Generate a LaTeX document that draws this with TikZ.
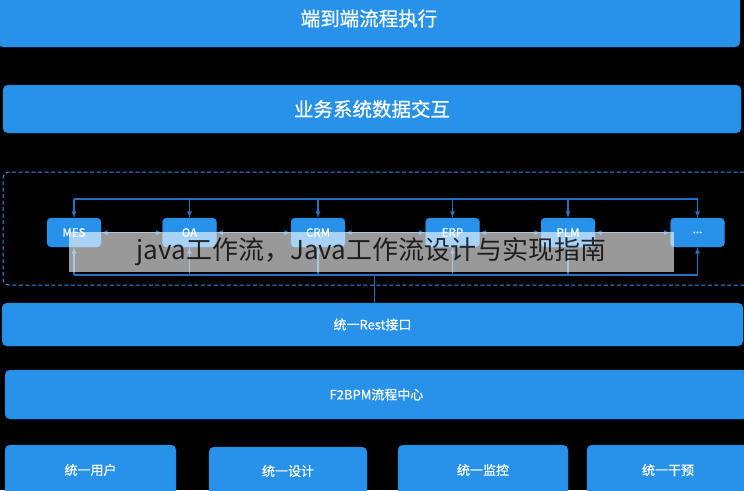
\documentclass[tikz,border=0pt]{standalone}
\usepackage{fontspec}
\setmainfont{Noto Sans CJK SC}[FakeBold=0.6]
\newfontfamily\markfont{Noto Sans CJK SC}
\usetikzlibrary{positioning, arrows, calc}
\definecolor{boxblue}{HTML}{2891EA}
\definecolor{linkblue}{HTML}{2173C2}
\definecolor{dashblue}{HTML}{2F90EA}

\begin{document}
\begin{tikzpicture}[x=1pt, y=-1pt,
	bigbox/.style={rectangle, fill=boxblue, draw=boxblue!85!black, rounded corners=5pt,
	align=center, text=white, inner sep=0pt, font=\fontsize{19.5}{22}\selectfont},
	midbox/.style={bigbox, font=\fontsize{13}{15}\selectfont},
	sysbox/.style={rectangle, fill=boxblue, draw=boxblue!85!black, rounded corners=4pt,
	minimum width=54pt, minimum height=29pt, inner sep=0pt, text=white,
	font=\fontsize{11.5}{13}\selectfont},
	link/.style={draw=linkblue, line width=1.2pt},
	linkarrow/.style={link, -latex}]
		
		\clip (0,0) rectangle (744,490);
		\fill[black] (0,0) rectangle (744,490);
		
		%Nodes
		\node (e2e) at (369,18.5) [bigbox, minimum width=742pt, minimum height=57pt]{端到端流程执行};
		\node (biz) at (372,109) [bigbox, minimum width=738pt, minimum height=48pt]{业务系统数据交互};
		
		\node (group) at (376.5,228.5) [rectangle, draw=dashblue, dash pattern=on 4pt off 2.5pt,
		line width=1pt, rounded corners=6pt, minimum width=747pt, minimum height=113pt]{};
		
		\node (mes) at (74,232.5) [sysbox]{MES};
		\node (oa) at (189.5,232.5) [sysbox]{OA};
		\node (crm) at (318,232.5) [sysbox]{CRM};
		\node (erp) at (452.5,232.5) [sysbox]{ERP};
		\node (plm) at (568,232.5) [sysbox]{PLM};
		\node (etc) at (697.5,232.5) [sysbox]{...};
		
		\node (rest) at (372.5,324.5) [midbox, minimum width=741pt, minimum height=43pt]{统一Rest接口};
		\node (f2bpm) at (376.5,394.5) [midbox, minimum width=743pt, minimum height=49pt]{F2BPM流程中心};
		
		\node (user) at (90.5,470) [midbox, minimum width=171pt, minimum height=50pt]{统一用户};
		\node (design) at (288,471) [midbox, minimum width=158pt, minimum height=48pt]{统一设计};
		\node (monitor) at (483,470) [midbox, minimum width=170pt, minimum height=50pt]{统一监控};
		\node (intervene) at (668,470) [midbox, minimum width=162pt, minimum height=50pt]{统一干预};
		
		\coordinate (bustop) at (0,199);
		\coordinate (busbottom) at (0,275);
		
		%Links
		\draw[link] (mes.north |- bustop) -- (etc.north |- bustop);
		\draw[link] (mes.south |- busbottom) -- (etc.south |- busbottom);
		\foreach \sys in {mes, oa, crm, erp, plm, etc}{
			\draw[linkarrow] (\sys.north |- bustop) -- (\sys.north);
			\draw[linkarrow] (\sys.south |- busbottom) -- (\sys.south);
		}
		\draw[link, latex-latex] (mes) -- (oa);
		\draw[link, latex-latex] (oa) -- (crm);
		\draw[link, latex-latex] (crm) -- (erp);
		\draw[link, latex-latex] (erp) -- (plm);
		\draw[link, latex-latex] (plm) -- (etc);
		\draw[link] ($(rest.north)+(2,0)$) -- ($(rest.north |- busbottom)+(2,0)$);
		
		%Watermark
		\node (mark) at (371.5,252) [rectangle, fill=white, fill opacity=0.6, text opacity=0.8,
		text=black, minimum width=605pt, minimum height=40pt, inner sep=0pt,
		font=\markfont\fontsize{26}{28}\selectfont]{java工作流，Java工作流设计与实现指南};
		
		\end{tikzpicture}
\end{document}
